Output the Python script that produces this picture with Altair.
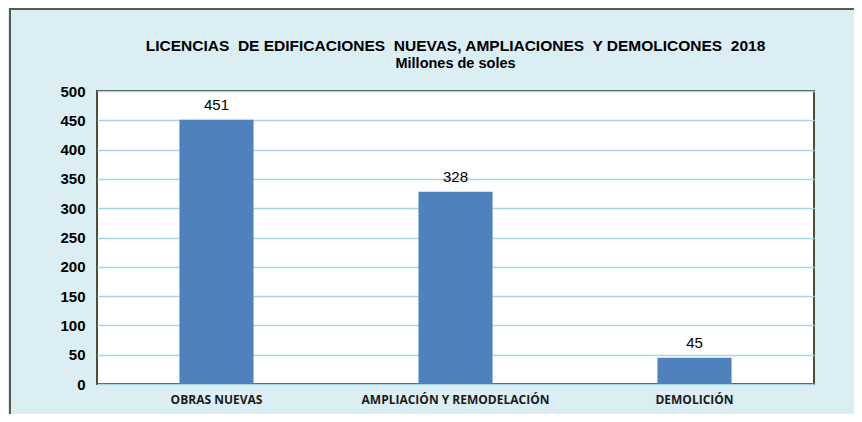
import altair as alt
import pandas as pd

categories = ["OBRAS NUEVAS", "AMPLIACIÓN Y REMODELACIÓN", "DEMOLICIÓN"]
values = [451, 328, 45]
y_ticks = [0, 50, 100, 150, 200, 250, 300, 350, 400, 450, 500]

df = pd.DataFrame({"cat": categories, "val": values})

BG = "#dbeef4"
NBSP = "\u00a0"
title_text = f"LICENCIAS{NBSP} DE EDIFICACIONES{NBSP} NUEVAS, AMPLIACIONES{NBSP} Y DEMOLICONES{NBSP} 2018"

x = alt.X("cat:N", sort=categories, title=None,
          scale=alt.Scale(paddingInner=0.69, paddingOuter=0.345),
          axis=alt.Axis(labelAngle=0, labelFont="Open Sans", labelFontWeight="bold",
                        labelFontSize=12, labelColor="#1a1a1a", labelPadding=10,
                        labelLimit=400, ticks=False, domain=False))
y = alt.Y("val:Q", title=None,
          scale=alt.Scale(domain=[0, 500], nice=False),
          axis=alt.Axis(values=y_ticks, labelFont="Liberation Sans", labelFontWeight="bold",
                        labelFontSize=15, labelColor="#000000", labelPadding=12,
                        labelOverlap=False,
                        ticks=False, domain=False, gridColor="#a6d5e4", gridWidth=1.5))

base = alt.Chart(df).encode(x=x, y=y)

frame = alt.Chart(df).mark_rect(fill=None, fillOpacity=0, stroke="#5a5a48", strokeWidth=2).encode(
    x=alt.value(-87), x2=alt.value(800), y=alt.value(-82), y2=alt.value(400)
)

bars = base.mark_bar(color="#4f81bd")
labels = base.mark_text(baseline="bottom", dy=-7, font="Liberation Sans",
                        fontSize=15, color="#000000").encode(text="val:Q")

chart = alt.layer(frame, bars, labels).properties(
    width=717, height=293,
    padding={"left": 89, "top": 83, "right": 40, "bottom": 30},
    autosize=alt.AutoSizeParams(type="none"),
    background=BG,
    title=alt.TitleParams(text=title_text, subtitle="Millones de soles",
                          font="Liberation Sans", fontSize=15.5, fontWeight="bold",
                          subtitleFont="Liberation Sans", subtitleFontSize=14.5,
                          subtitleFontWeight="bold", subtitleColor="#000000",
                          color="#000000", anchor="middle", offset=-62, subtitlePadding=2),
).configure_view(stroke="#4d4d38", strokeWidth=2, fill="white")

chart.save("out.html", embed_options={"renderer": "svg", "actions": False})
